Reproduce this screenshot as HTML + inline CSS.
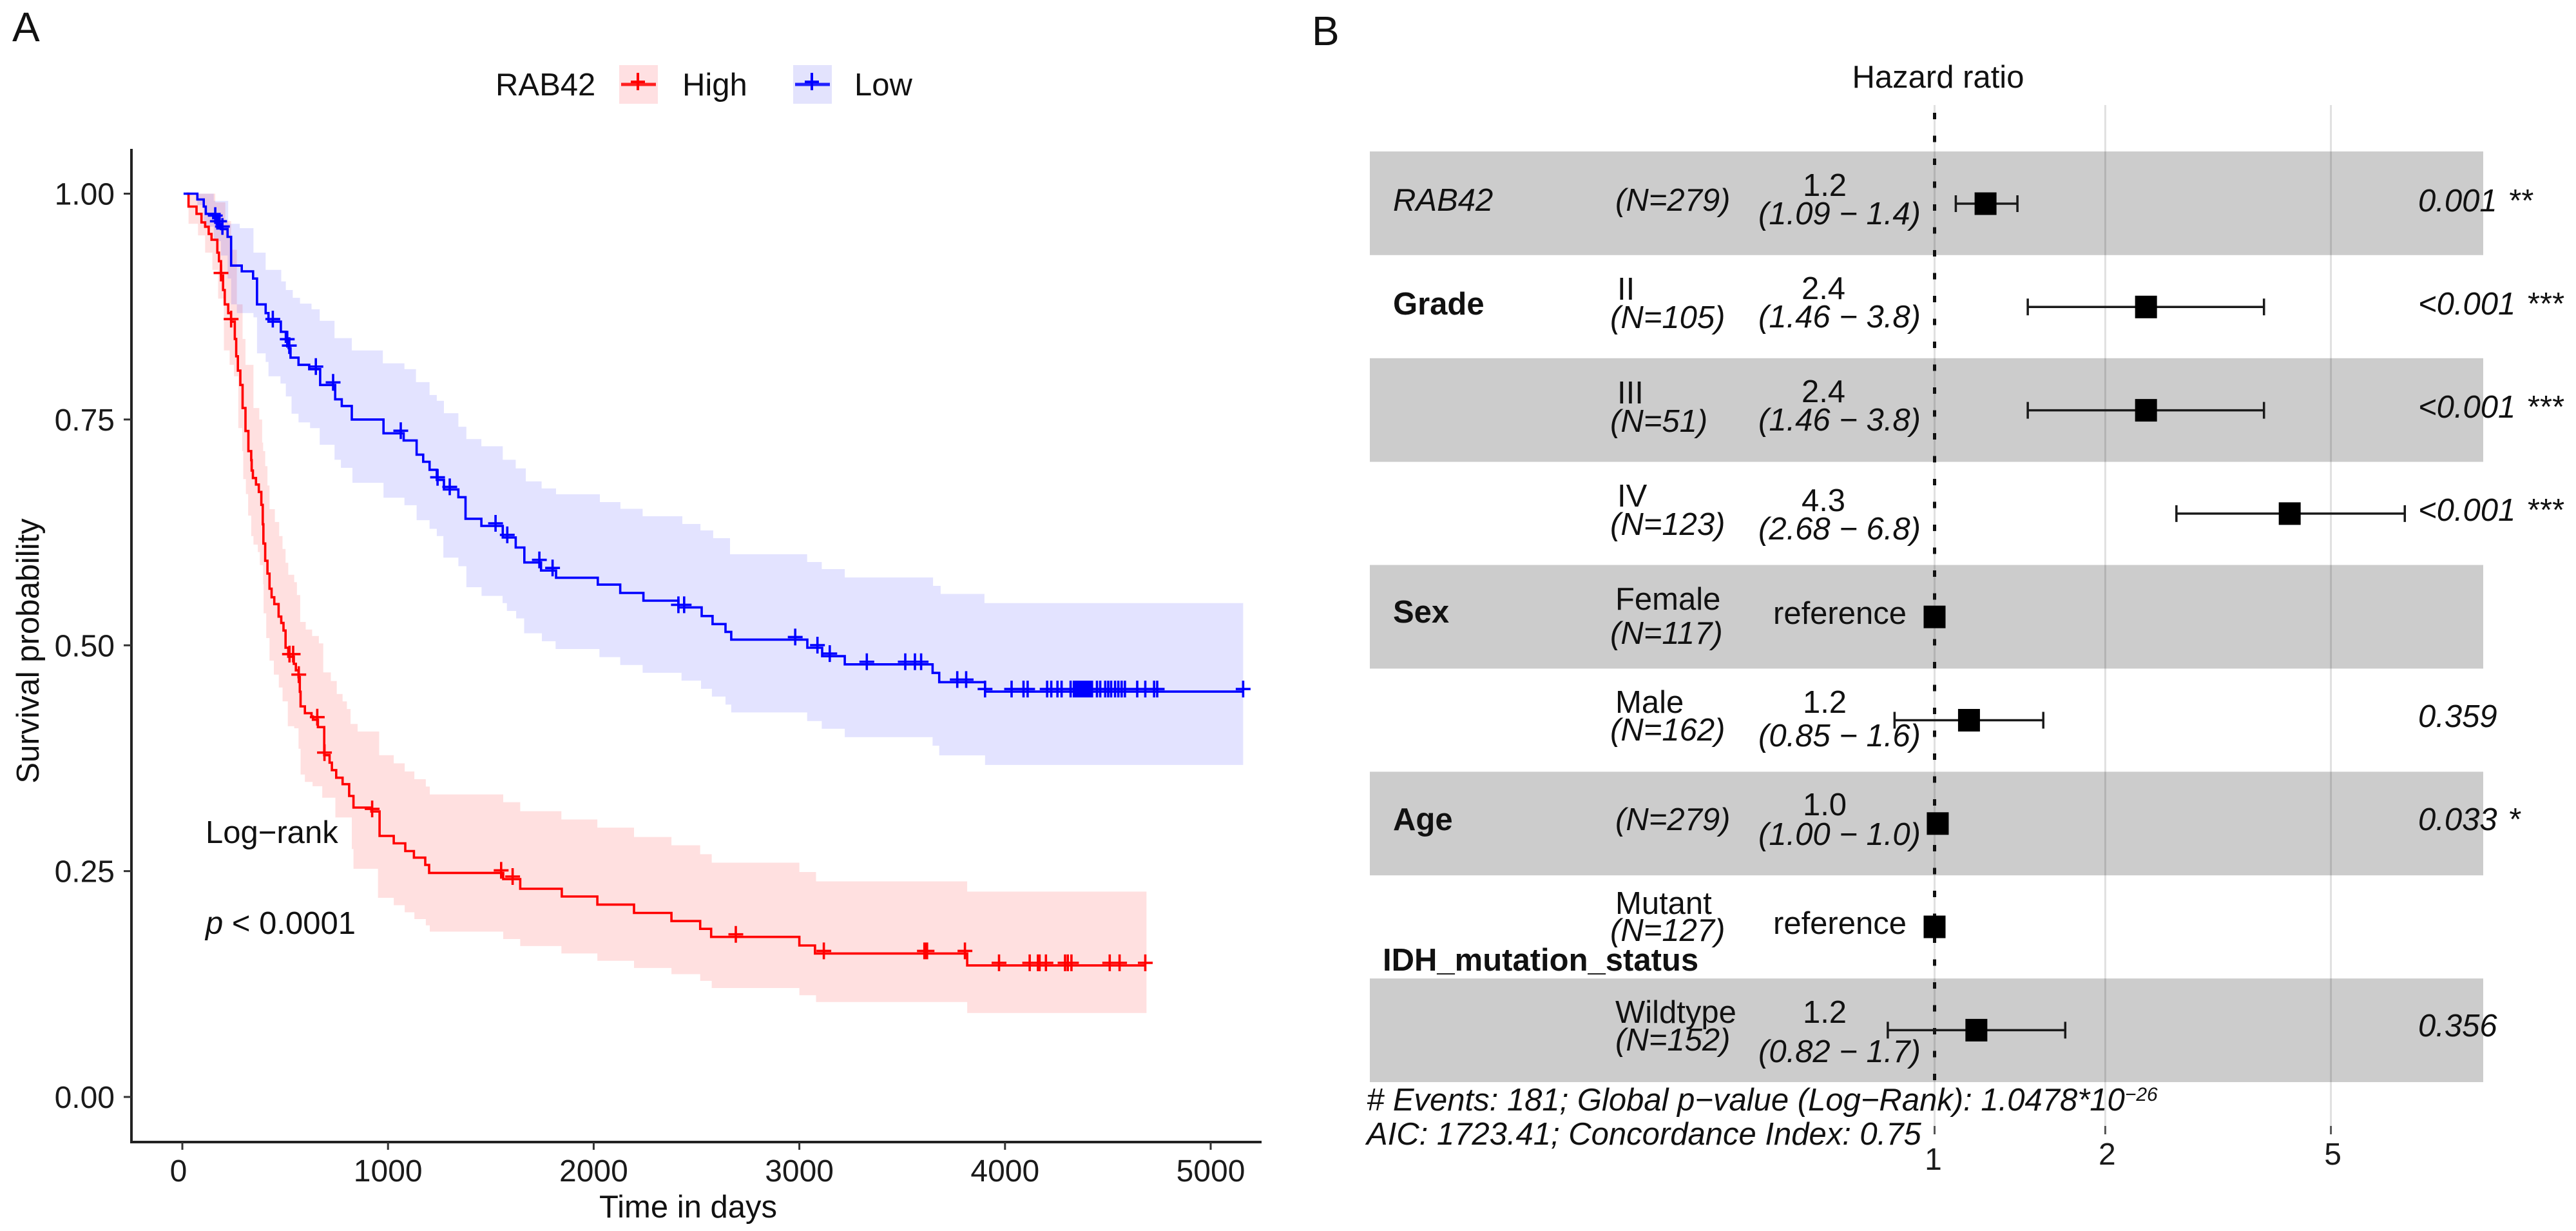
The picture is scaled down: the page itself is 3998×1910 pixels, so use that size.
<!DOCTYPE html>
<html lang="en">
<head>
<meta charset="utf-8">
<title>Survival analysis of RAB42</title>
<style>
html,body{margin:0;padding:0;background:#fff;width:3998px;height:1910px;overflow:hidden}
svg{display:block}
text{font-family:"Liberation Sans",Arial,sans-serif;font-size:49px;fill:#111;white-space:pre}
.tick{font-size:48px;fill:#1a1a1a}
.it{font-style:italic}
.bd{font-weight:bold}
.panel{font-size:64px}
</style>
</head>
<body>
<svg id="figure" xmlns="http://www.w3.org/2000/svg" width="3998" height="1910" viewBox="0 0 3998 1910">
  <rect x="0" y="0" width="3998" height="1910" fill="#fff"/>

  <text class="panel" x="19" y="64">A</text>
  <text class="panel" x="2036" y="70">B</text>

  <g>
    <text x="769" y="148">RAB42</text>
    <g>
      <rect x="961" y="101" width="60" height="60" fill="#ffe0e2"/>
      <path d="M964 131H1018" stroke="#ff2020" stroke-width="5" fill="none"/>
      <path d="M979 127H1001M990 113V140" stroke="#ff0000" stroke-width="4" fill="none"/>
      <text x="1059" y="148">High</text>
    </g>
    <g>
      <rect x="1231" y="101" width="60" height="60" fill="#e3e3fd"/>
      <path d="M1234 131H1288" stroke="#2020ff" stroke-width="5" fill="none"/>
      <path d="M1249 127H1271M1260 113V140" stroke="#0000ff" stroke-width="4" fill="none"/>
      <text x="1326" y="148">Low</text>
    </g>
  </g>

  <g id="km-plot"></g>
  <g id="km-axes"></g>

  <text text-anchor="middle" transform="translate(60 1010) rotate(-90)">Survival probability</text>
  <text text-anchor="middle" x="1068" y="1889">Time in days</text>
  <text x="319" y="1308">Log−rank</text>
  <text x="319" y="1449"><tspan class="it">p</tspan> &lt; 0.0001</text>

  <text text-anchor="middle" x="3008" y="136">Hazard ratio</text>
  <g id="forest-stripes"></g>
  <g id="forest-grid"></g>
  <g id="forest-marks"></g>

  <g>
    <text class="it" x="2162" y="327">RAB42</text>
    <text class="bd" x="2162" y="488">Grade</text>
    <text class="bd" x="2162" y="966">Sex</text>
    <text class="bd" x="2162" y="1288">Age</text>
    <text class="bd" x="2146" y="1506">IDH_mutation_status</text>
  </g>

  <g>
    <text class="it" x="2507" y="327">(N=279)</text>
    <text x="2510" y="465">II</text>
    <text class="it" x="2499" y="509">(N=105)</text>
    <text x="2510" y="626">III</text>
    <text class="it" x="2499" y="670">(N=51)</text>
    <text x="2510" y="786">IV</text>
    <text class="it" x="2499" y="830">(N=123)</text>
    <text x="2507" y="946">Female</text>
    <text class="it" x="2499" y="999">(N=117)</text>
    <text x="2507" y="1106">Male</text>
    <text class="it" x="2499" y="1149">(N=162)</text>
    <text class="it" x="2507" y="1288">(N=279)</text>
    <text x="2507" y="1418">Mutant</text>
    <text class="it" x="2499" y="1460">(N=127)</text>
    <text x="2507" y="1587">Wildtype</text>
    <text class="it" x="2507" y="1630">(N=152)</text>
  </g>

  <g>
    <text text-anchor="middle" x="2832" y="304">1.2</text>
    <text class="it" x="2729" y="348">(1.09 − 1.4)</text>
    <text text-anchor="middle" x="2830" y="464">2.4</text>
    <text class="it" x="2729" y="508">(1.46 − 3.8)</text>
    <text text-anchor="middle" x="2830" y="624">2.4</text>
    <text class="it" x="2729" y="668">(1.46 − 3.8)</text>
    <text text-anchor="middle" x="2830" y="793">4.3</text>
    <text class="it" x="2729" y="837">(2.68 − 6.8)</text>
    <text x="2752" y="968">reference</text>
    <text text-anchor="middle" x="2832" y="1106">1.2</text>
    <text class="it" x="2729" y="1158">(0.85 − 1.6)</text>
    <text text-anchor="middle" x="2832" y="1265">1.0</text>
    <text class="it" x="2729" y="1311">(1.00 − 1.0)</text>
    <text x="2752" y="1449">reference</text>
    <text text-anchor="middle" x="2832" y="1587">1.2</text>
    <text class="it" x="2729" y="1648">(0.82 − 1.7)</text>
  </g>

  <g>
    <text class="it" x="3753" y="328">0.001 <tspan dx="3">**</tspan></text>
    <text class="it" x="3753" y="488">&lt;0.001 <tspan dx="3">***</tspan></text>
    <text class="it" x="3753" y="648">&lt;0.001 <tspan dx="3">***</tspan></text>
    <text class="it" x="3753" y="808">&lt;0.001 <tspan dx="3">***</tspan></text>
    <text class="it" x="3753" y="1128">0.359</text>
    <text class="it" x="3753" y="1288">0.033 <tspan dx="3">*</tspan></text>
    <text class="it" x="3753" y="1608">0.356</text>
  </g>

  <text class="it" x="2121" y="1723"># Events: 181; Global p−value (Log−Rank): 1.0478*10<tspan font-size="30" dy="-15">−26</tspan></text>
  <text class="it" x="2121" y="1776">AIC: 1723.41; Concordance Index: 0.75</text>
  <g id="forest-ticks"></g>
</svg>

<script>
// Kaplan-Meier axis ticks
const kmTimeTicks = [0, 1000, 2000, 3000, 4000, 5000];
const kmSurvTicks = [0, 0.25, 0.5, 0.75, 1];

// High group: step curve
const highTime = [20,30,69,93,111,128,142,170,178,188,198,206,223,237,255,262,270,282,293,307,321,335,337,343,358,372,384,391,394,403,414,424,434,447,468,481,492,502,515,542,552,565,571,575,596,628,635,659,690,716,727,748,779,811,832,919,959,1028,1084,1126,1181,1200,1560,1643,1845,2018,2196,2378,2518,2571,3000,3076,3816,4682];
const highSurv = [1,.9857,.9777,.9682,.9634,.9554,.949,.9347,.9252,.9093,.8933,.8774,.8678,.8583,.8392,.82,.8041,.7882,.7627,.7373,.715,.705,.6935,.6852,.678,.6698,.6555,.634,.6127,.5936,.5794,.5627,.5532,.5456,.5318,.5247,.5164,.4973,.4874,.4795,.4723,.4647,.4486,.4324,.4248,.4212,.4176,.4094,.3784,.3701,.3618,.3534,.3463,.3332,.3204,.316,.289,.2808,.2722,.2649,.2569,.248,.2412,.2305,.2219,.2129,.2037,.1947,.1861,.1772,.1677,.1588,.1456,.1456];
const highCensor = [188,237,521,539,566,656,691,923,1550,1606,2691,3119,3608,3615,3621,3805,3971,4120,4160,4168,4199,4292,4305,4323,4509,4557,4682];
const highUpperTime = [20,160,209,237,265,293,307,346,374,388,393,403,414,424,450,471,487,502,515,544,557,573,600,631,664,685,722,751,779,800,818,852,957,1028,1081,1128,1184,1203,1560,1643,1843,2018,2196,2378,2518,2574,3000,3081,3816,4688];
const highUpper = [1,.9904,.9697,.9379,.8774,.8392,.8105,.7627,.75,.7245,.715,.6983,.6769,.6507,.6365,.621,.6067,.5913,.5782,.5699,.5556,.5259,.5175,.5104,.5021,.47,.4605,.4462,.4379,.4295,.4129,.4046,.3784,.3693,.3603,.3518,.3436,.3349,.3264,.3164,.3072,.2982,.2878,.2786,.2687,.2594,.249,.2387,.2273,.2273];
const highLowerTime = [20,30,76,111,146,174,202,230,251,272,291,296,309,320,335,346,367,377,393,395,408,424,445,469,487,513,544,565,575,596,633,680,744,824,832,951,1028,1081,1128,1184,1203,1560,1643,1843,2018,2196,2378,2518,2574,3000,3081,3816,4688];
const highLower = [1,.9666,.9538,.9347,.9156,.8838,.8264,.8105,.7978,.7404,.715,.684,.6674,.6436,.621,.6115,.6032,.5889,.5675,.5354,.508,.483,.4676,.4533,.4379,.4105,.4081,.3855,.357,.3487,.344,.3312,.3094,.2744,.2526,.2205,.2123,.2044,.1969,.19,.183,.1748,.167,.1588,.1508,.1428,.1359,.1285,.1206,.1126,.105,.093,.093];

// Low group: step curve
const lowTime = [6,73,104,114,150,167,188,220,237,289,344,363,405,419,479,503,517,526,565,617,670,743,775,824,978,1076,1139,1171,1202,1237,1272,1342,1377,1454,1558,1621,1663,1744,1817,2020,2129,2242,2412,2525,2578,2641,2669,3039,3111,3221,3648,3680,3903,5158];
const lowSurv = [1,.9936,.9857,.9777,.9729,.9666,.9608,.9522,.9204,.914,.906,.8774,.8678,.8583,.8471,.836,.829,.8185,.8105,.8057,.7882,.7723,.765,.75,.7347,.7268,.7111,.7032,.6943,.6831,.6726,.664,.6401,.6322,.6194,.6083,.5917,.5828,.5748,.5672,.558,.5494,.542,.5324,.5235,.5149,.5063,.4973,.488,.4789,.4694,.4592,.4487,.4487];
const lowCensor = [160,170,181,195,440,510,520,649,733,1062,1241,1300,1523,1580,1736,1800,2412,2440,2980,3088,3148,3328,3515,3562,3592,3768,3811,3903,4032,4090,4110,4205,4225,4255,4275,4319,4335,4345,4352,4360,4368,4376,4384,4392,4400,4408,4416,4423,4447,4463,4487,4502,4516,4535,4551,4567,4583,4643,4682,4725,4740,5158];
const lowUpperTime = [6,153,223,279,346,405,481,503,537,572,628,668,740,824,975,1080,1136,1202,1237,1272,1342,1381,1454,1558,1621,1670,1747,1817,2030,2130,2238,2431,2519,2581,2663,3038,3109,3221,3650,3687,3900,5158];
const lowUpper = [1,.992,.9666,.9618,.9347,.9156,.9029,.8933,.8847,.8783,.872,.8592,.8401,.8264,.8121,.8057,.7914,.7771,.7707,.757,.742,.7283,.7204,.7054,.6959,.6815,.6736,.6672,.6586,.6511,.6429,.6343,.6272,.6186,.6008,.5922,.5844,.5751,.5658,.5569,.5468,.5468];
const lowLowerTime = [6,73,104,153,188,220,237,265,346,363,405,419,477,503,531,565,621,668,740,771,827,978,1080,1139,1202,1237,1269,1342,1381,1455,1557,1578,1623,1662,1748,1815,2028,2129,2238,2427,2522,2575,2641,2669,3038,3109,3221,3648,3680,3903,5158];
const lowLower = [1,.9873,.9634,.9475,.9315,.9061,.8774,.8678,.8631,.8232,.8137,.7978,.7898,.7755,.7564,.7468,.7404,.722,.7054,.6965,.6799,.6634,.6551,.6385,.629,.621,.5971,.5876,.5643,.5547,.5468,.5381,.5298,.5133,.5045,.4959,.4869,.4783,.4696,.4609,.4518,.4433,.4343,.4257,.4161,.4076,.3983,.3889,.3782,.3675,.3675];

// Forest plot values (row 0 = RAB42 ... row 8 = Wildtype; reference rows have no interval)
const hrEstimate = [1.23, 2.36, 2.36, 4.23, 1, 1.15, 1.013, 1, 1.185];
const hrLower = [1.09, 1.46, 1.46, 2.67, null, 0.85, 1.0, null, 0.827];
const hrUpper = [1.40, 3.81, 3.81, 6.75, null, 1.555, 1.03, null, 1.70];
const hrTicks = [1, 2, 5];

const NS = 'http://www.w3.org/2000/svg';
function kmX(t) { return 283 + 0.3192 * t; }
function kmY(s) { return 1702 - 1401.5 * s; }
function hrX(h) { return 3002.5 + 880 * Math.log10(h); }
function rowCenter(i) { return 316 + 160.3 * i; }

function make(tag, attrs, parent) {
  const el = document.createElementNS(NS, tag);
  for (const k in attrs) el.setAttribute(k, attrs[k]);
  parent.appendChild(el);
  return el;
}
function stepForward(times, vals) {
  let d = '';
  for (let i = 0; i < times.length; i++) {
    const x = kmX(times[i]).toFixed(1);
    if (i > 0) d += 'H' + x;
    d += (i === 0 ? 'M' + x + ' ' + kmY(vals[0]).toFixed(1) : 'V' + kmY(vals[i]).toFixed(1));
  }
  return d;
}
function stepBackward(times, vals) {
  let d = '';
  for (let i = times.length - 1; i >= 0; i--) {
    d += 'L' + kmX(times[i]).toFixed(1) + ' ' + kmY(vals[i]).toFixed(1);
    if (i > 0) d += 'V' + kmY(vals[i - 1]).toFixed(1);
  }
  return d;
}
function survAt(times, vals, t) {
  let s = vals[0];
  for (let i = 0; i < times.length; i++) { if (times[i] <= t) s = vals[i]; else break; }
  return s;
}
function plusPath(times, vals, censor) {
  let d = '';
  for (const t of censor) {
    const x = kmX(t), y = kmY(survAt(times, vals, t)) - 4;
    d += 'M' + (x - 11.5).toFixed(1) + ' ' + y.toFixed(1) + 'H' + (x + 11.5).toFixed(1);
    d += 'M' + x.toFixed(1) + ' ' + (y - 13).toFixed(1) + 'V' + (y + 13).toFixed(1);
  }
  return d;
}

const plot = document.getElementById('km-plot');

const bandHigh = make('path', {d: stepForward(highUpperTime, highUpper) + stepBackward(highLowerTime, highLower) + 'Z', fill: 'rgb(255,0,0)', 'fill-opacity': 0.12, stroke: 'none'}, plot);


const bandLow = make('path', {d: stepForward(lowUpperTime, lowUpper) + stepBackward(lowLowerTime, lowLower) + 'Z', fill: 'rgb(0,0,255)', 'fill-opacity': 0.11, stroke: 'none'}, plot);



const lineHigh = make('path', {d: stepForward(highTime, highSurv), fill: 'none', stroke: '#ff0000', 'stroke-width': 3.6}, plot);


const lineLow = make('path', {d: stepForward(lowTime, lowSurv), fill: 'none', stroke: '#0000ff', 'stroke-width': 3.6}, plot);



const marksHigh = make('path', {d: plusPath(highTime, highSurv, highCensor), fill: 'none', stroke: '#ff0000', 'stroke-width': 3.6}, plot);


const marksLow = make('path', {d: plusPath(lowTime, lowSurv, lowCensor), fill: 'none', stroke: '#0000ff', 'stroke-width': 3.6}, plot);



const axes = document.getElementById('km-axes');
const yAxisLine = make('path', {d: 'M204 231V1773', stroke: '#222', 'stroke-width': 4, fill: 'none'}, axes);


const xAxisLine = make('path', {d: 'M202 1772H1958', stroke: '#222', 'stroke-width': 4, fill: 'none'}, axes);



for (const t of kmTimeTicks) {
  const tk = make('path', {d: 'M' + kmX(t) + ' 1772V1784', stroke: '#333', 'stroke-width': 3}, axes);
  
  
  const lb = make('text', {x: kmX(t) - (t === 0 ? 6 : 0), y: 1833, 'text-anchor': 'middle', class: 'tick'}, axes);
  lb.textContent = String(t);
  
  
}
for (const s of kmSurvTicks) {
  const tk = make('path', {d: 'M192 ' + kmY(s) + 'H204', stroke: '#333', 'stroke-width': 3}, axes);
  
  
  const lb = make('text', {x: 178, y: kmY(s) + 17, 'text-anchor': 'end', class: 'tick'}, axes);
  lb.textContent = s.toFixed(2);
  
  
}

// Forest plot
const stripes = document.getElementById('forest-stripes');
hrEstimate.forEach(function (_, i) {
  if (i % 2 === 0) {
    const r = make('rect', {x: 2126, y: 235 + 160.4 * i, width: 1728, height: 160.8, fill: '#cccccc'}, stripes);
    
    
  }
});

const grid = document.getElementById('forest-grid');
for (const h of hrTicks) {
  const g = make('path', {d: 'M' + hrX(h) + ' 163V1748', stroke: '#000', 'stroke-opacity': 0.12, 'stroke-width': 3, fill: 'none'}, grid);
  
  
}
const refLine = make('path', {d: 'M' + hrX(1) + ' 175V1682', stroke: '#111', 'stroke-width': 5, 'stroke-dasharray': '10 25.5', fill: 'none'}, grid);



const marks = document.getElementById('forest-marks');
hrEstimate.forEach(function (est, i) {
  const y = rowCenter(i);
  if (hrLower[i] !== null) {
    const x0 = hrX(hrLower[i]), x1 = hrX(hrUpper[i]);
    const ci = make('path', {d: 'M' + x0 + ' ' + y + 'H' + x1 + 'M' + x0 + ' ' + (y - 13) + 'V' + (y + 13) + 'M' + x1 + ' ' + (y - 13) + 'V' + (y + 13), stroke: '#1a1a1a', 'stroke-width': 3.5, fill: 'none'}, marks);
    
    
  }
  const sq = make('rect', {x: hrX(est) - 17, y: y - 17.5, width: 34, height: 35, fill: '#000'}, marks);
  
  
});

const fTicks = document.getElementById('forest-ticks');
for (const h of hrTicks) {
  const tk = make('path', {d: 'M' + hrX(h) + ' 1747V1760', stroke: '#555', 'stroke-width': 3, fill: 'none'}, fTicks);
  
  
  const lb = make('text', {x: hrX(h) + (h === 1 ? -2 : 3), y: h === 1 ? 1815 : 1807, 'text-anchor': 'middle', class: 'tick'}, fTicks);
  lb.textContent = String(h);
  
  
}
</script>
</body>
</html>
